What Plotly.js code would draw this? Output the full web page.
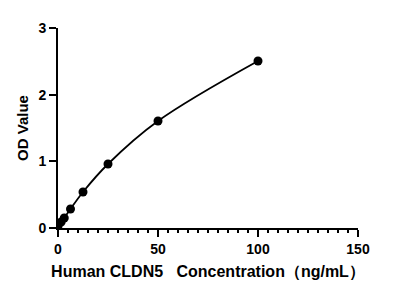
<!DOCTYPE html>
<html><head><meta charset="utf-8">
<script src="https://cdn.plot.ly/plotly-3.0.1.min.js"></script>
<style>html,body{margin:0;padding:0;background:#fff}#c{width:404px;height:296px}</style>
</head><body><div id="c"></div>
<script>
const concentration = [0, 1.5625, 3.125, 6.25, 12.5, 25, 50, 100];
const odValue = [0.03, 0.09, 0.15, 0.285, 0.54, 0.96, 1.605, 2.505];
const xTickStep = 50;
const xMinorStep = 5;
const xMax = 150;
const yTickStep = 1;

const minorTicks = [];
for (let v = xMinorStep; v < xMax; v += xMinorStep) {
  if (v % xTickStep !== 0) minorTicks.push(v);
}
const plotH = 296 - 28 - 68;
const shapes = minorTicks.map(v => ({type: 'line', xref: 'x', yref: 'paper', x0: v, x1: v, y0: 0, y1: -5 / plotH,
  line: {color: '#000', width: 2}, layer: 'above'}));

const font = {family: 'Arial, "Liberation Sans", sans-serif', color: '#000'};
Plotly.newPlot('c', [
  {x: concentration, y: odValue, mode: 'lines', line: {color: '#000', width: 1.8, shape: 'spline', smoothing: 1}, hoverinfo: 'skip'},
  {x: concentration, y: odValue, mode: 'markers', marker: {color: '#000', size: 9}}
], {
  width: 404, height: 296, showlegend: false,
  paper_bgcolor: '#fff', plot_bgcolor: '#fff',
  margin: {l: 58, r: 46, t: 28, b: 68},
  shapes: shapes,
  xaxis: {range: [0, xMax], tickmode: 'linear', tick0: 0, dtick: xTickStep, ticks: 'outside', ticklen: 7, tickwidth: 2, tickcolor: '#000',
    showline: true, linewidth: 2, linecolor: '#000', showgrid: false, zeroline: false,
    tickfont: Object.assign({size: 14, weight: 'bold'}, font),
    title: {text: 'Human CLDN5   Concentration\uFF08ng/mL\uFF09', font: Object.assign({size: 16, weight: 'bold'}, font), standoff: 10}},
  yaxis: {range: [0, 3], tickmode: 'linear', tick0: 0, dtick: yTickStep, ticks: 'outside', ticklen: 7, tickwidth: 2, tickcolor: '#000',
    showline: true, linewidth: 2, linecolor: '#000', showgrid: false, zeroline: false,
    tickfont: Object.assign({size: 14, weight: 'bold'}, font),
    title: {text: 'OD Value', font: Object.assign({size: 15, weight: 'bold'}, font), standoff: 6}}
}, {staticPlot: true});
</script></body></html>
